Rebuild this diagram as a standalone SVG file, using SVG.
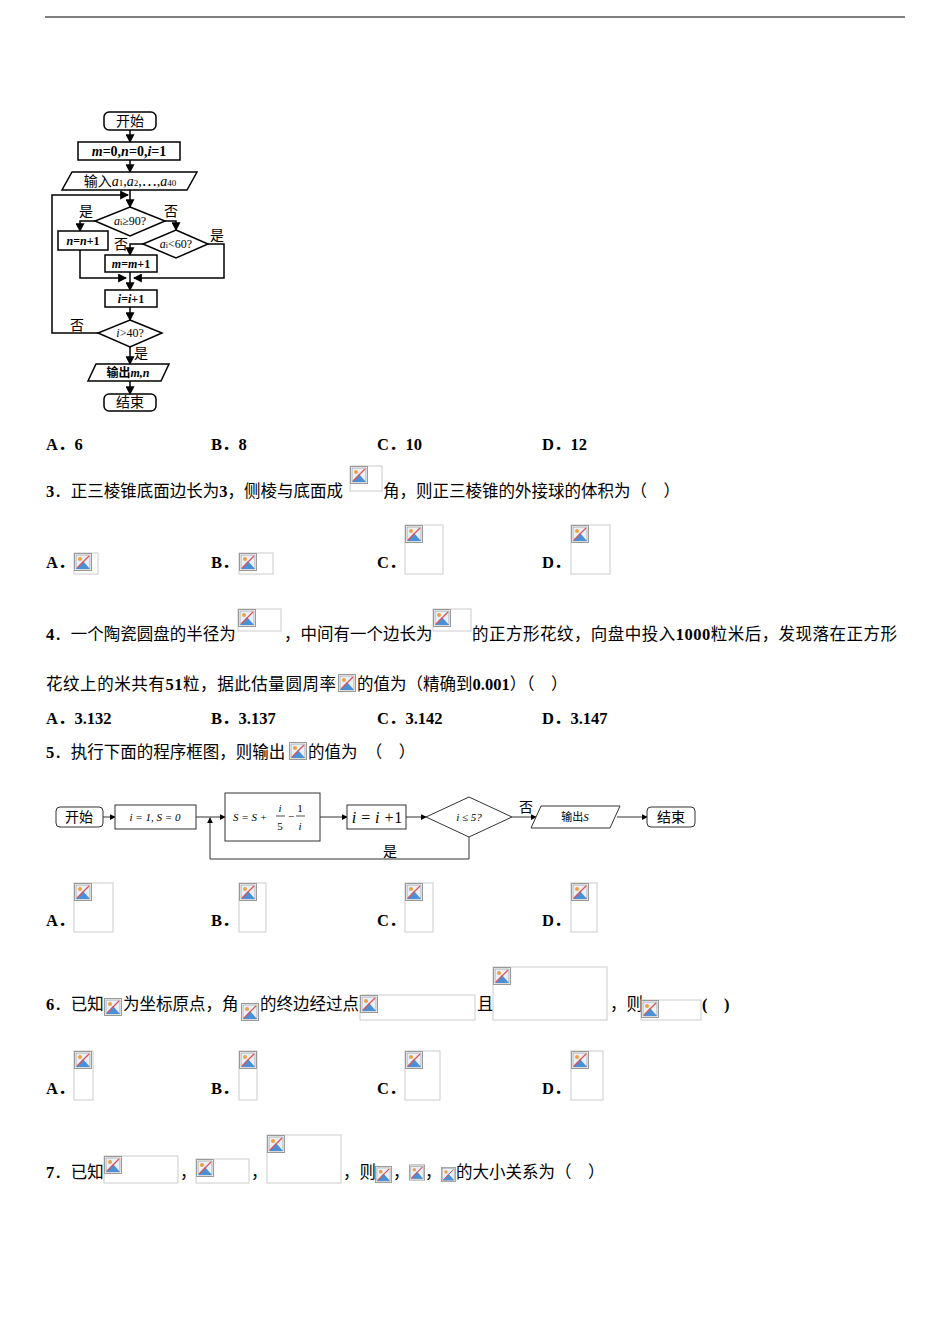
<svg xmlns="http://www.w3.org/2000/svg" width="950" height="1344" viewBox="0 0 950 1344">
<style>
text{font-family:"Liberation Serif","Noto Sans CJK SC",serif;fill:#000}
.q{font-size:16.5px}
.b{font-weight:bold}
.f{font-size:14px}
.s{font-size:12px}
.s2{font-size:11px}
.n{fill:#fff;stroke:#000;stroke-width:1.5}
.n2{fill:#fff;stroke:#333;stroke-width:1}
.c{fill:none;stroke:#000;stroke-width:1.5}
.c2{fill:none;stroke:#333;stroke-width:1}
.ph{fill:#fff;stroke:#ccc;stroke-width:1}
</style>
<defs>
<marker id="a" viewBox="0 0 8 8" refX="7" refY="4" markerWidth="6" markerHeight="6" orient="auto"><path d="M0,0L8,4L0,8z" fill="#000"/></marker>
<symbol id="ic" viewBox="0 0 18 18"><rect x="0.5" y="0.5" width="17" height="17" fill="#fff" stroke="#999"/><rect x="2" y="2" width="14" height="14" fill="#e8f0fa" stroke="#888" stroke-width="0.6"/><path d="M2,16L9,8L16,16z" fill="#4a90d9"/><circle cx="6" cy="6" r="2" fill="#f0a040"/><path d="M3,15L15,3" stroke="#e05050" stroke-width="1.2"/></symbol>
</defs>
<line x1="45" y1="17" x2="905" y2="17" stroke="#000" stroke-width="1"/>

<g id="connectors1">
<path class="c" d="M130,130V142" marker-end="url(#a)"/>
<path class="c" d="M130,160V172" marker-end="url(#a)"/>
<path class="c" d="M130,190V207" marker-end="url(#a)"/>
<path class="c" d="M95,221H80V231" marker-end="url(#a)"/>
<path class="c" d="M165,221H176V230" marker-end="url(#a)"/>
<path class="c" d="M143,244H130V255" marker-end="url(#a)"/>
<path class="c" d="M208,244H224V278H134" marker-end="url(#a)"/>
<path class="c" d="M80,250V278H126" marker-end="url(#a)"/>
<path class="c" d="M130,272V290" marker-end="url(#a)"/>
<path class="c" d="M130,307V320" marker-end="url(#a)"/>
<path class="c" d="M98,333H52V195H128" marker-end="url(#a)"/>
<path class="c" d="M130,347V364" marker-end="url(#a)"/>
<path class="c" d="M130,381V394" marker-end="url(#a)"/>
</g>
<g id="start1"><rect class="n" x="104" y="112" width="52" height="18" rx="5"/><text class="f" x="130" y="126" text-anchor="middle">开始</text></g>
<g id="init1"><rect class="n" x="78" y="142" width="102" height="18"/><text class="f b" x="129" y="156" text-anchor="middle"><tspan font-style="italic">m</tspan>=0,<tspan font-style="italic">n</tspan>=0,<tspan font-style="italic">i</tspan>=1</text></g>
<g id="input1"><path class="n" d="M72,172H197L187,190H62z"/><text class="f" x="130" y="186" text-anchor="middle">输入<tspan font-style="italic">a</tspan><tspan font-size="9">1</tspan>,<tspan font-style="italic">a</tspan><tspan font-size="9">2</tspan>,⋯,<tspan font-style="italic">a</tspan><tspan font-size="9">40</tspan></text></g>
<g id="d1"><path class="n" d="M130,207L165,221L130,236L95,221z"/><text class="s" x="130" y="225" text-anchor="middle"><tspan font-style="italic">a</tspan><tspan font-size="8">i</tspan>≥90?</text></g>
<text class="f" x="79" y="216">是</text><text class="f" x="164" y="216">否</text>
<g id="nbox"><rect class="n" x="58" y="231" width="50" height="19"/><text class="s b" x="83" y="245" text-anchor="middle"><tspan font-style="italic">n</tspan>=<tspan font-style="italic">n</tspan>+1</text></g>
<g id="d2"><path class="n" d="M176,230L208,244L176,258L143,244z"/><text class="s" x="176" y="248" text-anchor="middle"><tspan font-style="italic">a</tspan><tspan font-size="8">i</tspan>&lt;60?</text></g>
<text class="f" x="210" y="240">是</text><text class="f" x="114" y="249">否</text>
<g id="mbox"><rect class="n" x="105" y="255" width="52" height="17"/><text class="s b" x="131" y="268" text-anchor="middle"><tspan font-style="italic">m</tspan>=<tspan font-style="italic">m</tspan>+1</text></g>
<g id="ibox"><rect class="n" x="105" y="290" width="52" height="17"/><text class="s b" x="131" y="303" text-anchor="middle"><tspan font-style="italic">i</tspan>=<tspan font-style="italic">i</tspan>+1</text></g>
<g id="d3"><path class="n" d="M130,320L162,333L130,347L98,333z"/><text class="s" x="130" y="337" text-anchor="middle"><tspan font-style="italic">i</tspan>&gt;40?</text></g>
<text class="f" x="70" y="330">否</text><text class="f" x="134" y="358">是</text>
<g id="out1"><path class="n" d="M96,364H169L161,381H88z"/><text class="s b" x="128" y="377" text-anchor="middle">输出<tspan font-style="italic">m,n</tspan></text></g>
<g id="end1"><rect class="n" x="104" y="394" width="52" height="17" rx="5"/><text class="f" x="130" y="407" text-anchor="middle">结束</text></g>

<text class="q b" x="46" y="450">A．6</text><text class="q b" x="211" y="450">B．8</text><text class="q b" x="377" y="450">C．10</text><text class="q b" x="542" y="450">D．12</text>

<text class="q" x="46" y="497"><tspan class="b">3</tspan>．正三棱锥底面边长为<tspan class="b">3</tspan>，侧棱与底面成</text>
<rect class="ph" x="350" y="466" width="32" height="25"/><use href="#ic" x="350" y="466" width="18" height="18"/>
<text class="q" x="383" y="497">角，则正三棱锥的外接球的体积为（　）</text>

<text class="q b" x="46" y="568">A．</text><rect class="ph" x="74" y="553" width="24" height="21"/><use href="#ic" x="74" y="553" width="18" height="18"/>
<text class="q b" x="211" y="568">B．</text><rect class="ph" x="239" y="553" width="34" height="21"/><use href="#ic" x="239" y="553" width="18" height="18"/>
<text class="q b" x="377" y="568">C．</text><rect class="ph" x="405" y="525" width="38" height="49"/><use href="#ic" x="405" y="525" width="18" height="18"/>
<text class="q b" x="542" y="568">D．</text><rect class="ph" x="571" y="525" width="39" height="49"/><use href="#ic" x="571" y="525" width="18" height="18"/>

<text class="q" x="46" y="640"><tspan class="b">4</tspan>．一个陶瓷圆盘的半径为</text>
<rect class="ph" x="238" y="609" width="43" height="22"/><use href="#ic" x="238" y="609" width="18" height="18"/>
<text class="q" x="284" y="640">，中间有一个边长为</text>
<rect class="ph" x="433" y="609" width="38" height="22"/><use href="#ic" x="433" y="609" width="18" height="18"/>
<text class="q" x="472" y="640" textLength="425" lengthAdjust="spacing">的正方形花纹，向盘中投入<tspan class="b">1000</tspan>粒米后，发现落在正方形</text>
<text class="q" x="46" y="690" textLength="290" lengthAdjust="spacing">花纹上的米共有<tspan class="b">51</tspan>粒，据此估量圆周率</text>
<use href="#ic" x="338" y="674" width="18" height="18"/>
<text class="q" x="357" y="690">的值为（精确到<tspan class="b">0.001</tspan>）（　）</text>
<text class="q b" x="46" y="724">A．3.132</text><text class="q b" x="211" y="724">B．3.137</text><text class="q b" x="377" y="724">C．3.142</text><text class="q b" x="542" y="724">D．3.147</text>

<text class="q" x="46" y="758"><tspan class="b">5</tspan>．执行下面的程序框图，则输出</text>
<use href="#ic" x="289" y="742" width="18" height="18"/>
<text class="q" x="308" y="758">的值为　（　）</text>

<g id="connectors2">
<path class="c2" d="M102,817H115" marker-end="url(#a)"/>
<path class="c2" d="M196,817H225" marker-end="url(#a)"/>
<path class="c2" d="M320,817H347" marker-end="url(#a)"/>
<path class="c2" d="M406,817H426" marker-end="url(#a)"/>
<path class="c2" d="M512,817H536" marker-end="url(#a)"/>
<path class="c2" d="M617,817H647" marker-end="url(#a)"/>
<path class="c2" d="M469,837V859H210V818" marker-end="url(#a)"/>
</g>
<g id="start2"><rect class="n2" x="56" y="807" width="47" height="20" rx="4"/><text class="f" x="79" y="822" text-anchor="middle" fill="#333">开始</text></g>
<g id="init2"><rect class="n2" x="115" y="805" width="81" height="24"/><text class="s2" x="155" y="821" text-anchor="middle" font-style="italic">i = 1, S = 0</text></g>
<g id="sbox"><rect class="n2" x="225" y="793" width="95" height="48"/><text class="s2" x="233" y="821" font-style="italic">S = S +</text><text class="s2" x="280" y="812" text-anchor="middle" font-style="italic">i</text><line x1="276" y1="816" x2="285" y2="816" stroke="#000" stroke-width="0.7"/><text class="s2" x="280" y="830" text-anchor="middle">5</text><text class="s2" x="288" y="820">−</text><text class="s2" x="300" y="812" text-anchor="middle">1</text><line x1="296" y1="816" x2="305" y2="816" stroke="#000" stroke-width="0.7"/><text class="s2" x="300" y="830" text-anchor="middle" font-style="italic">i</text></g>
<g id="inc2"><rect class="n2" x="347" y="805" width="59" height="24"/><text x="377" y="823" text-anchor="middle" font-size="16" font-style="italic">i = i +<tspan font-style="normal">1</tspan></text></g>
<g id="d4"><path class="n2" d="M469,797L512,817L469,837L426,817z"/><text class="s2" x="469" y="821" text-anchor="middle" font-style="italic">i ≤ 5?</text></g>
<text class="f" x="519" y="812" fill="#333">否</text><text class="f" x="383" y="856" fill="#333">是</text>
<g id="out2"><path class="n2" d="M541,806H620L610,828H531z"/><text class="s2" x="575" y="821" text-anchor="middle">输出<tspan font-style="italic">S</tspan></text></g>
<g id="end2"><rect class="n2" x="647" y="807" width="48" height="20" rx="4"/><text class="f" x="671" y="822" text-anchor="middle" fill="#333">结束</text></g>

<text class="q b" x="46" y="926">A．</text><rect class="ph" x="74" y="883" width="39" height="49"/><use href="#ic" x="74" y="883" width="18" height="18"/>
<text class="q b" x="211" y="926">B．</text><rect class="ph" x="239" y="883" width="27" height="49"/><use href="#ic" x="239" y="883" width="18" height="18"/>
<text class="q b" x="377" y="926">C．</text><rect class="ph" x="405" y="883" width="28" height="49"/><use href="#ic" x="405" y="883" width="18" height="18"/>
<text class="q b" x="542" y="926">D．</text><rect class="ph" x="571" y="883" width="26" height="49"/><use href="#ic" x="571" y="883" width="18" height="18"/>

<text class="q" x="46" y="1010"><tspan class="b">6</tspan>．已知</text>
<use href="#ic" x="104" y="998" width="18" height="18"/>
<text class="q" x="123" y="1010">为坐标原点，角</text>
<use href="#ic" x="241" y="1003" width="18" height="18"/>
<text class="q" x="260" y="1010">的终边经过点</text>
<rect class="ph" x="360" y="995" width="115" height="25"/><use href="#ic" x="360" y="995" width="18" height="18"/>
<text class="q" x="477" y="1010">且</text>
<rect class="ph" x="493" y="967" width="114" height="53"/><use href="#ic" x="493" y="967" width="18" height="18"/>
<text class="q" x="610" y="1010">，则</text>
<rect class="ph" x="641" y="1000" width="60" height="20"/><use href="#ic" x="641" y="1000" width="18" height="18"/>
<text class="q b" x="702" y="1010">(　)</text>

<text class="q b" x="46" y="1094">A．</text><rect class="ph" x="74" y="1051" width="19" height="49"/><use href="#ic" x="74" y="1051" width="18" height="18"/>
<text class="q b" x="211" y="1094">B．</text><rect class="ph" x="239" y="1051" width="18" height="49"/><use href="#ic" x="239" y="1051" width="18" height="18"/>
<text class="q b" x="377" y="1094">C．</text><rect class="ph" x="405" y="1051" width="35" height="49"/><use href="#ic" x="405" y="1051" width="18" height="18"/>
<text class="q b" x="542" y="1094">D．</text><rect class="ph" x="571" y="1051" width="32" height="49"/><use href="#ic" x="571" y="1051" width="18" height="18"/>

<text class="q" x="46" y="1178"><tspan class="b">7</tspan>．已知</text>
<rect class="ph" x="104" y="1156" width="74" height="27"/><use href="#ic" x="104" y="1156" width="18" height="18"/>
<text class="q" x="180" y="1178">，</text>
<rect class="ph" x="196" y="1159" width="53" height="24"/><use href="#ic" x="196" y="1159" width="18" height="18"/>
<text class="q" x="251" y="1178">，</text>
<rect class="ph" x="267" y="1135" width="74" height="48"/><use href="#ic" x="267" y="1135" width="18" height="18"/>
<text class="q" x="343" y="1178">，则</text>
<use href="#ic" x="375" y="1166" width="17" height="17"/>
<text class="q" x="393" y="1178">，</text>
<use href="#ic" x="409" y="1164" width="16" height="17"/>
<text class="q" x="425" y="1178">，</text>
<use href="#ic" x="441" y="1166" width="15" height="17"/>
<text class="q" x="456" y="1178">的大小关系为（　）</text>
</svg>
